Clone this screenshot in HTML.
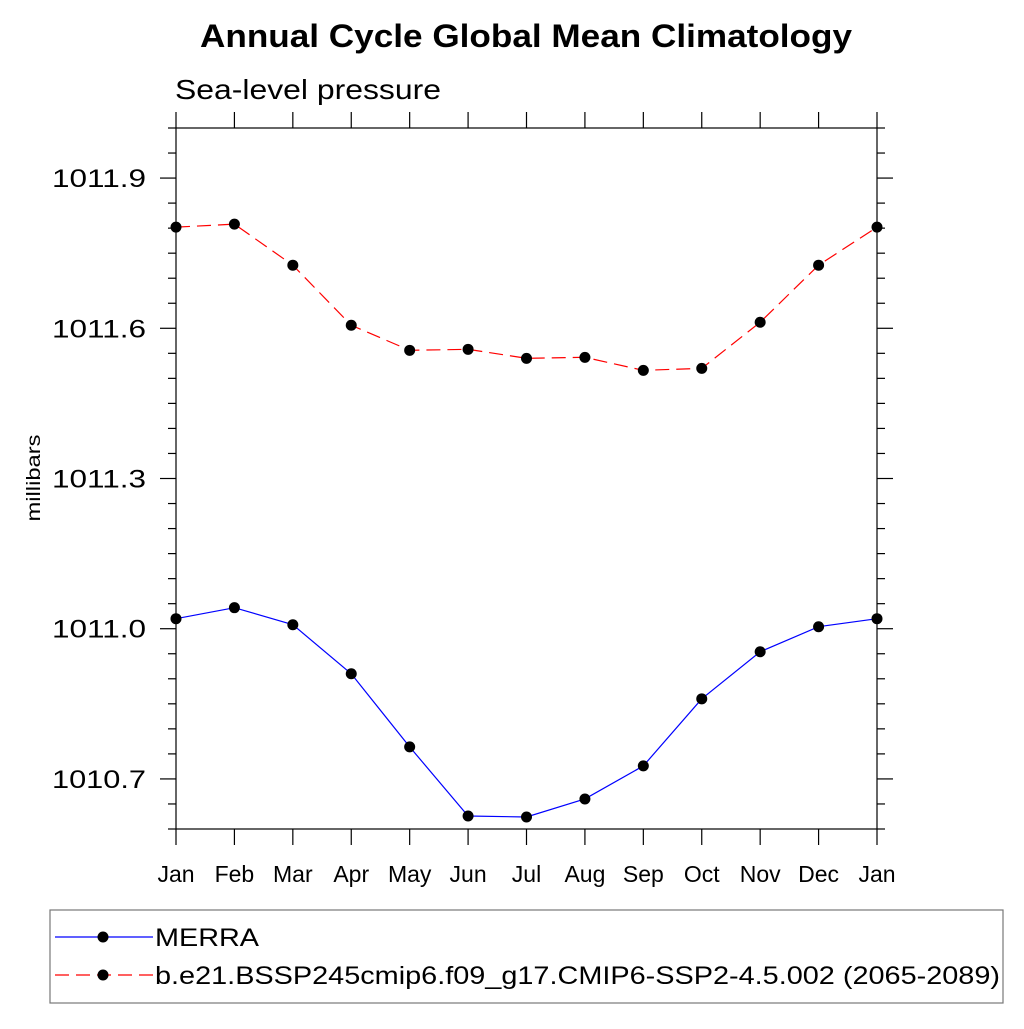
<!DOCTYPE html>
<html><head><meta charset="utf-8"><style>
html,body{margin:0;padding:0;background:#fff;}
svg text{font-family:"Liberation Sans",sans-serif;fill:#000;}
</style></head><body>
<svg id="chart" width="1024" height="1024" viewBox="0 0 1024 1024">
<text x="200" y="47" font-size="32" font-weight="bold" textLength="652" lengthAdjust="spacingAndGlyphs">Annual Cycle Global Mean Climatology</text>
<text x="175" y="99" font-size="28" textLength="266" lengthAdjust="spacingAndGlyphs">Sea-level pressure</text>
<text transform="translate(40,478) rotate(-90)" font-size="19" text-anchor="middle" textLength="87" lengthAdjust="spacingAndGlyphs">millibars</text>
<rect x="176" y="128" width="701" height="701" fill="none" stroke="#000" stroke-width="1.2"/>
<g id="axes"></g>
<g id="series"></g>
<rect x="50" y="910" width="953" height="93" fill="none" stroke="#777" stroke-width="1.2"/>
<g id="legend"></g>
</svg>
<script>
const months=["Jan","Feb","Mar","Apr","May","Jun","Jul","Aug","Sep","Oct","Nov","Dec","Jan"];
const merra=[1011.020,1011.042,1011.008,1010.910,1010.764,1010.626,1010.624,1010.660,1010.726,1010.860,1010.954,1011.004,1011.020];
const model=[1011.802,1011.808,1011.726,1011.606,1011.556,1011.558,1011.540,1011.542,1011.516,1011.520,1011.612,1011.726,1011.802];
const yTicks=[1010.7,1011.0,1011.3,1011.6,1011.9];
const yMin=1010.6,yMax=1012.0;
const X0=176,X1=877,Y0=128,Y1=829;
const NS="http://www.w3.org/2000/svg";
function xs(i){return X0+(X1-X0)*i/12;}
function ys(v){return Y1-(v-yMin)/(yMax-yMin)*(Y1-Y0);}
function mk(tag,attrs,parent){const e=document.createElementNS(NS,tag);for(const k in attrs)e.setAttribute(k,attrs[k]);parent.appendChild(e);return e;}
const axes=document.getElementById('axes');
months.forEach((m,i)=>{
  const x=xs(i);
  const t1=mk('line',{x1:x,x2:x,y1:Y1,y2:Y1+16,stroke:'#000','stroke-width':1.2},axes);
  
  
  const t2=mk('line',{x1:x,x2:x,y1:Y0,y2:Y0-16,stroke:'#000','stroke-width':1.2},axes);
  
  
  const tx=mk('text',{x:x,y:882,'font-size':23,'text-anchor':'middle'},axes);
  tx.textContent=m;
  
  
});
for(let k=0;k<=28;k++){
  const v=yMin+k*0.05,y=ys(v);
  const major=yTicks.some(t=>Math.abs(t-v)<1e-6);
  const len=major?16:8;
  const a=mk('line',{x1:X0,x2:X0-len,y1:y,y2:y,stroke:'#000','stroke-width':1.2},axes);
  
  
  const b=mk('line',{x1:X1,x2:X1+len,y1:y,y2:y,stroke:'#000','stroke-width':1.2},axes);
  
  
}
yTicks.forEach(v=>{
  const t=mk('text',{x:52,y:ys(v)+9,'font-size':25,textLength:94,lengthAdjust:'spacingAndGlyphs'},axes);
  t.textContent=v.toFixed(1);
  
  
});
const ser=document.getElementById('series');
function draw(data,color,dash,name){
  const pts=data.map((v,i)=>xs(i)+','+ys(v)).join(' ');
  const pl=mk('polyline',{points:pts,fill:'none',stroke:color,'stroke-width':1.2,'stroke-dasharray':dash},ser);
  
  
  data.forEach((v,i)=>{
    const c=mk('circle',{cx:xs(i),cy:ys(v),r:5.5,fill:'#000'},ser);
    
    
  });
}
draw(merra,'#0000ff','none','merra');
draw(model,'#ff0000','14,7','model');
const lg=document.getElementById('legend');
[['MERRA','#0000ff','none',937,'legend-entry-merra',104],['b.e21.BSSP245cmip6.f09_g17.CMIP6-SSP2-4.5.002 (2065-2089)','#ff0000','14,7',975,'legend-entry-model',845]].forEach(e=>{
  const g=mk('g',{},lg);
  
  
  mk('line',{x1:55,x2:153,y1:e[3],y2:e[3],stroke:e[1],'stroke-width':1.2,'stroke-dasharray':e[2]},g);
  mk('circle',{cx:103,cy:e[3],r:5.5,fill:'#000'},g);
  const t=mk('text',{x:155,y:e[3]+9,'font-size':25,textLength:e[5],lengthAdjust:'spacingAndGlyphs'},g);
  t.textContent=e[0];
});
</script>
</body></html>
